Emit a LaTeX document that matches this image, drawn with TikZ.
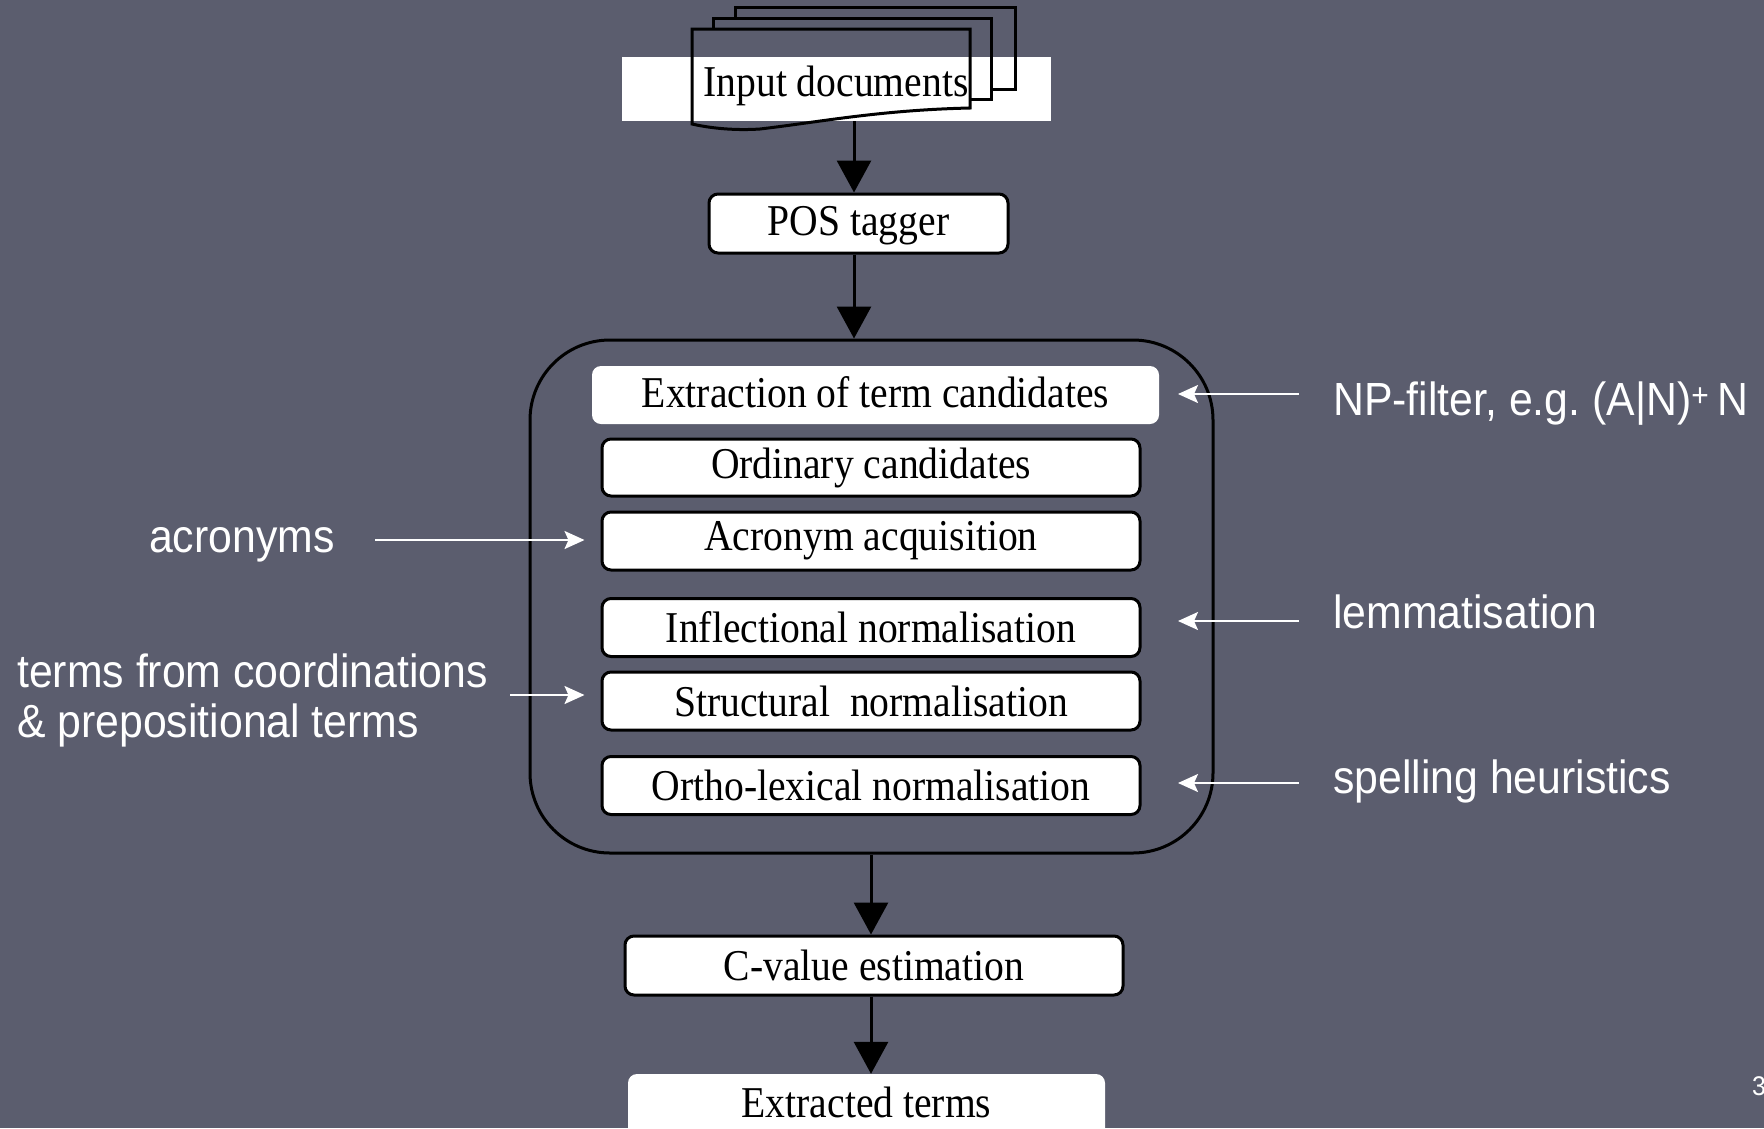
\documentclass[tikz,border=0pt]{standalone}
\usepackage{fontspec}
\setmainfont[FakeStretch=0.9]{Liberation Serif}
\newfontfamily\labfont[FakeStretch=0.92]{Liberation Sans}
\usetikzlibrary{arrows.meta,calc}
\definecolor{bg}{RGB}{91,93,110}
\frenchspacing
\begin{document}
\begin{tikzpicture}[x=1pt,y=-1pt,
  box/.style={draw=black, line width=3pt, fill=white, rounded corners=9pt, inner sep=0pt,
    font=\fontsize{44}{50}\selectfont},
  plainbox/.style={fill=white, rounded corners=9pt, inner sep=0pt,
    font=\fontsize{44}{50}\selectfont},
  bigarrow/.style={line width=3pt, -{Triangle[width=34pt,length=32pt]}},
  warrow/.style={draw=white, line width=2pt, -{Stealth[width=18pt,length=20pt,inset=4pt]}},
  lab/.style={text=white, inner sep=0pt, font=\labfont\fontsize{46.5}{50}\selectfont},
  doc/.style={line width=3pt, line join=miter}
]
\fill[bg] (0,0) rectangle (1764,1128);
\useasboundingbox (0,0) rectangle (1764,1128);

% input documents
\fill[white] (622,57) rectangle (1051,121);
\draw[doc] (735,18) -- (735,7) -- (1015,7) -- (1015,89) -- (991,89);
\draw[doc] (713,29) -- (713,18) -- (991,18) -- (991,99) -- (970,99);
\draw[doc] (692,124) -- (692,29) -- (970,29) -- (970,108)
  .. controls (880,110) and (820,122) .. (760,129)
  .. controls (730,131) and (705,127) .. (692,124) -- cycle;
\node[inner sep=0pt, font=\fontsize{44}{50}\selectfont] (inp) at (836,86) {Input documents};
\coordinate (docb) at (854,121);

\node[box, minimum width=299pt, minimum height=59pt] (pos) at (858.5,223.5) {};
\node[inner sep=0pt, font=\fontsize{44}{50}\selectfont] (post) at (858.5,226) {POS tagger};

\node[draw=black, line width=3pt, rounded corners=80pt, minimum width=683pt, minimum height=513pt] (big) at (871.5,596.5) {};

\node[plainbox, minimum width=567pt, minimum height=58pt] (extr) at (875.5,395) {};
\node[inner sep=0pt, font=\fontsize{44}{50}\selectfont] (extrt) at (875.5,392) {Extraction of term candidates};
\node[box, minimum width=538pt, minimum height=57pt] (ord) at (871,467.5) {Ordinary candidates};
\node[box, minimum width=538pt, minimum height=58pt] (acr) at (871,541) {Acronym acquisition};
\node[box, minimum width=538pt, minimum height=58pt] (infl) at (871,627.5) {Inflectional normalisation};
\node[box, minimum width=538pt, minimum height=58pt] (struc) at (871,701) {Structural\ \ normalisation};
\node[box, minimum width=538pt, minimum height=58pt] (orth) at (871,785.5) {Ortho-lexical normalisation};

\node[box, minimum width=498pt, minimum height=59pt] (cval) at (874,965.5) {C-value estimation};
\node[plainbox, minimum width=477pt, minimum height=66pt] (ext) at (866.5,1107) {};
\node[inner sep=0pt, font=\fontsize{44}{50}\selectfont] (extt) at (866.5,1102) {Extracted terms};

% vertical arrows
\coordinate (cx) at (871,0);
\draw[bigarrow] (docb) -- (docb |- pos.north);
\draw[bigarrow] (pos.south -| docb) -- (big.north -| docb);
\draw[bigarrow] (big.south -| cx) -- (cval.north -| cx);
\draw[bigarrow] (cval.south -| cx) -- (ext.north -| cx);

% right side labels
\node[lab, anchor=west] (np) at (1333,404) {NP-filter, e.g. (A|N)\textsuperscript{+}\,N};
\node[lab, anchor=west] (lem) at (1333,612) {lemmatisation};
\node[lab, anchor=west] (spel) at (1333,781) {spelling heuristics};
\coordinate (npa) at (1299,394);   \coordinate (npb) at (1178,394);
\coordinate (lema) at (1299,621);  \coordinate (lemb) at (1178,621);
\coordinate (spela) at (1299,783); \coordinate (spelb) at (1178,783);
\draw[warrow] (npa) -- (npb);
\draw[warrow] (lema) -- (lemb);
\draw[warrow] (spela) -- (spelb);

% left side labels
\node[lab, anchor=west] (acrl) at (149,545) {acronyms};
\node[lab, anchor=west, align=left] (terml) at (17,700) {terms from coordinations\\\& prepositional terms};
\coordinate (acra) at (375,540);
\coordinate (terma) at (510,695);
\draw[warrow] (acra) -- ([xshift=-16pt]acr.west |- acra);
\draw[warrow] (terma) -- ([xshift=-16pt]struc.west |- terma);

% page number
\node[text=white, inner sep=0pt, anchor=west, font=\labfont\fontsize{27}{30}\selectfont] (pg) at (1752,1086) {3};
\end{tikzpicture}
\end{document}
